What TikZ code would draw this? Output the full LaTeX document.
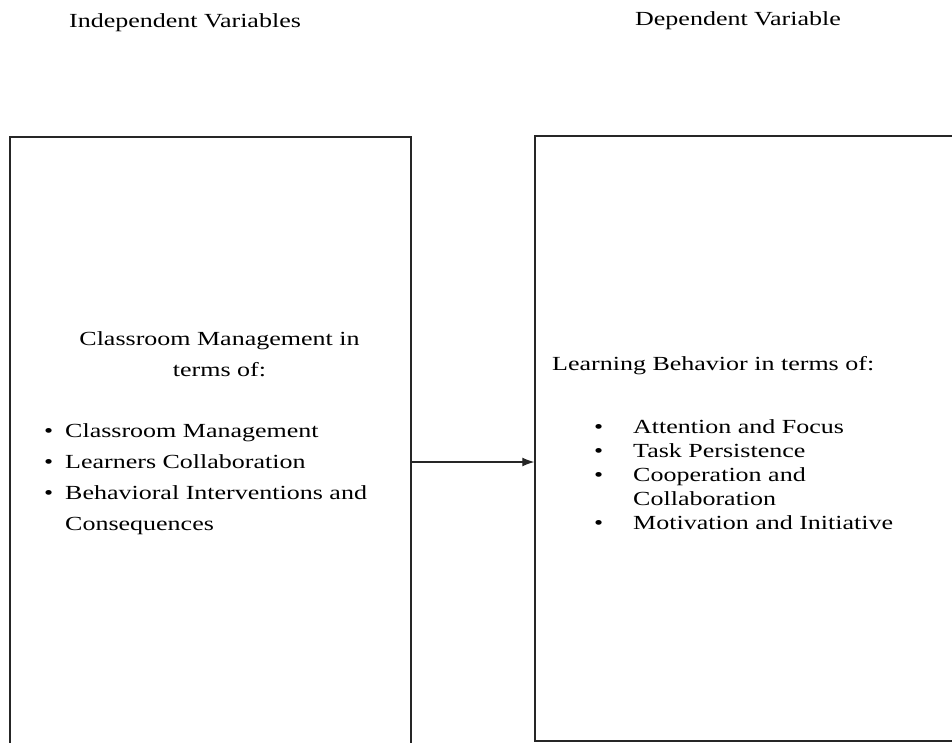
\documentclass[tikz,border=0pt]{standalone}
\usepackage{fontspec}
\setmainfont{Liberation Serif}[FakeStretch=1.3]
\usepackage{tikz}
\usetikzlibrary{arrows.meta}

% bullets with a fixed gap before the item text
\newcommand{\bulL}{\makebox[21pt][l]{\textbullet}}
\newcommand{\bulR}{\makebox[39pt][l]{\textbullet}}

\begin{document}
\begin{tikzpicture}[
  x=1pt, y=-1pt,
  box/.style={draw=black!85, line width=1.4pt, inner sep=0pt},
  txt/.style={inner sep=0pt, font=\fontsize{20}{24}\selectfont},
  txtw/.style={inner sep=0pt, font=\fontsize{20}{31}\selectfont},
  edg/.style={-{Latex[length=12pt,width=9pt]}, line width=1.2pt, black!85}
]
\clip (0,0) rectangle (952,742);
% headers
\node[txt, anchor=base] (hind) at (185,27) {Independent Variables};
\node[txt, anchor=base] (hdep) at (738,25) {Dependent Variable};
% the two variable boxes
\node[box, minimum width=401pt, minimum height=633pt] (lvar) at (210.5,453.5) {};
\node[box, minimum width=440pt, minimum height=605pt] (rvar) at (755,438.5) {};
% left box text (base = last line)
\node[txtw, anchor=base, align=center] (lhead) at (219.5,376) {Classroom Management in\\terms of:};
\node[txtw, anchor=base west, align=left] (llist) at (44,530) {\bulL Classroom Management\\
  \bulL Learners Collaboration\\
  \bulL Behavioral Interventions and\\
  \hspace{21pt}Consequences};
% right box text
\node[txt, anchor=base west] (rhead) at (552,370) {Learning Behavior in terms of:};
\node[txt, anchor=base west, align=left] (rlist) at (594,529.5) {\bulR Attention and Focus\\
  \bulR Task Persistence\\
  \bulR Cooperation and\\
  \hspace{39pt}Collaboration\\
  \bulR Motivation and Initiative};
% link
\coordinate (lk) at (0,462);
\draw[edg] (lvar.east |- lk) -- (rvar.west |- lk);
\end{tikzpicture}
\end{document}
